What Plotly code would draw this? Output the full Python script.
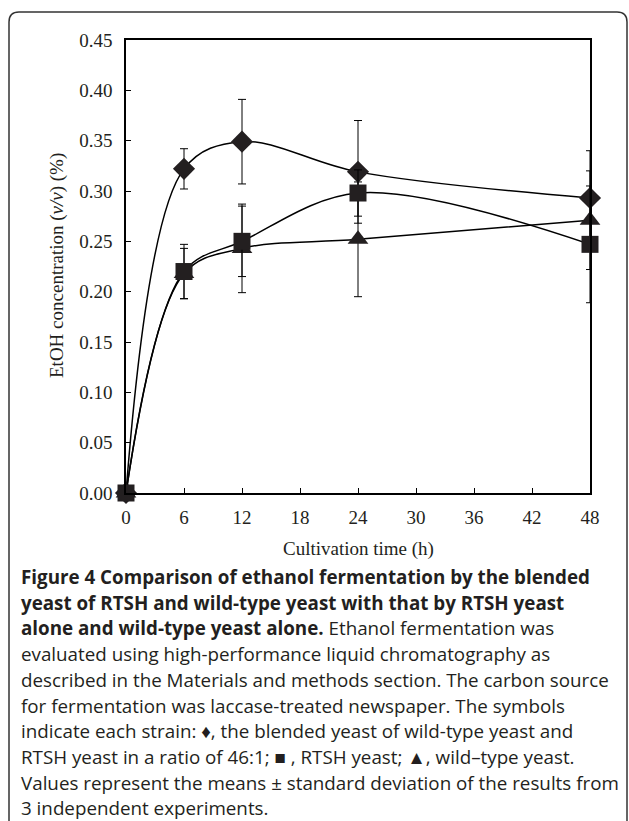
import plotly.graph_objects as go

# ---- data ----
time_h = [0, 6, 12, 24, 48]
blended = [0.0, 0.322, 0.349, 0.319, 0.293]
blended_sd = [0.0, 0.020, 0.042, 0.051, 0.047]
rtsh = [0.0, 0.220, 0.250, 0.298, 0.247]
rtsh_sd = [0.0, 0.027, 0.035, 0.023, 0.058]
wild = [0.0, 0.218, 0.243, 0.252, 0.271]
wild_sd = [0.0, 0.025, 0.044, 0.057, 0.049]
x_ticks = [0, 6, 12, 18, 24, 30, 36, 42, 48]
y_ticks = [0.00, 0.05, 0.10, 0.15, 0.20, 0.25, 0.30, 0.35, 0.40, 0.45]

caption_lines = [
    "<b>Figure 4 Comparison of ethanol fermentation by the blended</b>",
    "<b>yeast of RTSH and wild-type yeast with that by RTSH yeast</b>",
    "<b>alone and wild-type yeast alone.</b> Ethanol fermentation was",
    "evaluated using high-performance liquid chromatography as",
    "described in the Materials and methods section. The carbon source",
    "for fermentation was laccase-treated newspaper. The symbols",
    "indicate each strain: ♦, the blended yeast of wild-type yeast and",
    "RTSH yeast in a ratio of 46:1; ■ , RTSH yeast; ▲, wild–type yeast.",
    "Values represent the means ± standard deviation of the results from",
    "3 independent experiments.",
]

W, H = 629, 821
L, R, T, B = 126, 590, 40, 493  # plot area in pixels
INK = "#231f20"


def xp(px):
    return (px - L) / (R - L)


def yp(py):
    return (B - py) / (B - T)


fig = go.Figure()

series = [
    (wild, wild_sd, "triangle-up", 18),
    (blended, blended_sd, "diamond", 17),
    (rtsh, rtsh_sd, "square", 17),
]
for vals, sd, sym, size in series:
    fig.add_trace(go.Scatter(
        x=time_h, y=vals,
        mode="lines+markers",
        line=dict(color="black", width=1.5, shape="spline", smoothing=1),
        marker=dict(symbol=sym, size=size, color=INK),
        error_y=dict(type="data", array=sd, visible=True, color="black",
                     thickness=1, width=4),
        cliponaxis=False,
        showlegend=False,
        hoverinfo="skip",
    ))

serif = "Liberation Serif"
fig.update_xaxes(
    range=[0, 48], tickvals=x_ticks, ticktext=[str(v) for v in x_ticks],
    ticks="inside", ticklen=5, tickcolor="black", tickwidth=1,
    showline=True, linecolor="black", linewidth=1.5, mirror=True,
    showgrid=False, zeroline=False,
    tickfont=dict(family=serif, size=19, color=INK),
    ticklabelstandoff=6,
)
fig.update_yaxes(
    range=[0, 0.45], tickvals=y_ticks, ticktext=[f"{v:.2f}" for v in y_ticks],
    ticks="inside", ticklen=5, tickcolor="black", tickwidth=1,
    showline=True, linecolor="black", linewidth=1.5, mirror=True,
    showgrid=False, zeroline=False,
    tickfont=dict(family=serif, size=19, color=INK),
    ticklabelstandoff=8,
)

annotations = [
    dict(text="Cultivation time (h)", x=xp(358), y=yp(549), xref="paper", yref="paper",
         showarrow=False, xanchor="center", yanchor="middle",
         font=dict(family=serif, size=19, color=INK)),
    dict(text="EtOH concentration (<i>v/v</i>) (%)", x=xp(57), y=yp(266),
         xref="paper", yref="paper", showarrow=False, textangle=-90,
         xanchor="center", yanchor="middle",
         font=dict(family=serif, size=19, color=INK)),
]
y0 = 577
dy = 25.7
for i, line in enumerate(caption_lines):
    annotations.append(dict(
        text=line, x=xp(19), y=yp(y0 + i * dy), xref="paper", yref="paper",
        showarrow=False, xanchor="left", yanchor="middle", align="left",
        font=dict(family="Open Sans", size=18.8, color=INK),
    ))

# rounded frame around whole figure
lx, rx, ty, by = xp(9), xp(627), yp(12), yp(840)
rxp = 10 / (R - L)
ryp = 10 / (B - T)
path = (f"M {lx},{by} L {lx},{ty - ryp} Q {lx},{ty} {lx + rxp},{ty} "
        f"L {rx - rxp},{ty} Q {rx},{ty} {rx},{ty - ryp} L {rx},{by}")
fig.add_shape(type="path", path=path, xref="paper", yref="paper",
              line=dict(color="#333333", width=1.5), layer="above")

fig.update_layout(
    width=W, height=H,
    margin=dict(l=L, r=W - R, t=T, b=H - B, pad=0),
    paper_bgcolor="white", plot_bgcolor="white",
    annotations=annotations,
    hovermode=False,
)

fig.write_html("out.html", config={"displayModeBar": False},
               post_script="document.body.style.margin='0';")
